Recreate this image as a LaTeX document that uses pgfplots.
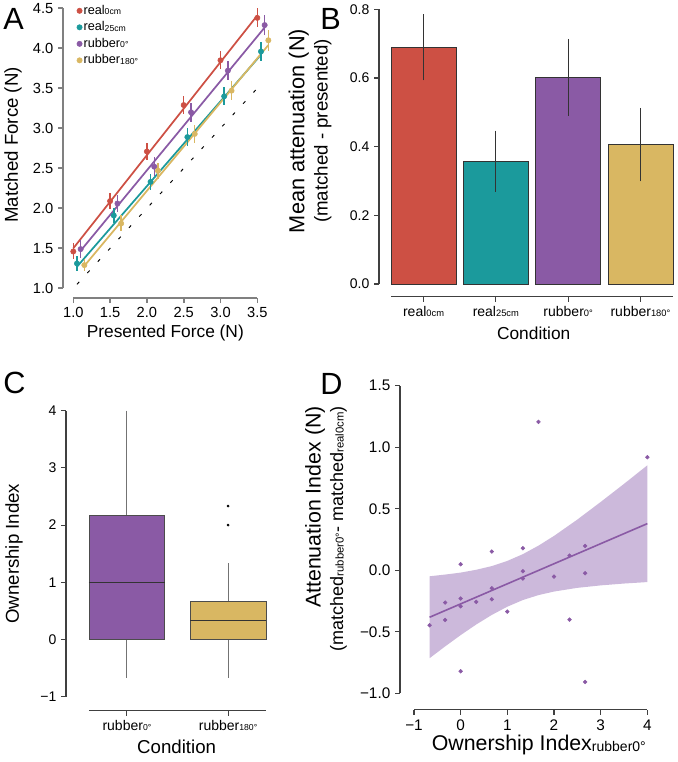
\documentclass[border=0pt]{standalone}
\usepackage{pgfplots}
\pgfplotsset{compat=1.18}
\usepgfplotslibrary{statistics}
\usepackage{fontspec}
\setmainfont{Liberation Sans}
\definecolor{cred}{HTML}{CD5044}
\definecolor{cteal}{HTML}{1B9A9C}
\definecolor{cpurple}{HTML}{8A5AA5}
\definecolor{cgold}{HTML}{D9B762}
\definecolor{cband}{HTML}{CCB9DB}
\newcommand{\fs}[1]{\fontsize{#1}{#1}\selectfont}
\newcommand{\sm}[2]{\raisebox{-0.05ex}{\fs{#1}#2}}
\pgfplotsset{
  rstyle/.style={
    scale only axis, axis lines=left,
    axis line style={-, line width=0.8pt, draw=black!75},
    tick align=outside, major tick length=3.75pt,
    tick style={line width=0.8pt, draw=black!75},
    /pgf/number format/assume math mode=true, clip=false,
  }
}
\begin{document}
\begin{tikzpicture}[x=0.75pt,y=0.75pt]
\path[use as bounding box] (0,0) rectangle (677,762);

% ---------------- Panel A ----------------
\begin{axis}[rstyle, at={(54.975pt,355.275pt)}, anchor=south west, width=138pt, height=210pt,
  xmin=1, xmax=3.5, ymin=1, ymax=4.5,
  axis line style={-, line width=1.2pt, draw=black!50},
  tick style={line width=1.2pt, draw=black!50},
  axis x line shift=7.3pt, axis y line shift=7.7pt,
  xtick={1,1.5,2,2.5,3,3.5}, xticklabels={1.0,1.5,2.0,2.5,3.0,3.5},
  ytick={1,1.5,2,2.5,3,3.5,4,4.5}, yticklabels={1.0,1.5,2.0,2.5,3.0,3.5,4.0,4.5},
  ticklabel style={font=\fs{11}},
  xlabel={Presented Force (N)}, ylabel={Matched Force (N)},
  xlabel style={font=\fs{13}, at={(0.5,-0.16)}, anchor=center},
  ylabel style={font=\fs{14}, at={(-0.328,0.512)}, anchor=center},
  legend style={at={(0.0,1.0)}, anchor=north west, draw=none, fill=none, xshift=2.5pt, yshift=4pt,
    font=\fs{9.5}, inner sep=0pt, row sep=1pt, nodes={inner xsep=1pt, inner ysep=1.5pt}},
  legend cell align=left,
  legend image code/.code={\draw[#1] plot coordinates {(0.1cm,0cm)};},
]
\addplot[black, dash pattern=on 2.5pt off 9pt, line width=0.7pt, forget plot] coordinates {(1.05,1.05) (3.55,3.55)};
\addplot[cred, line width=1.3pt, forget plot] coordinates {(1.0,1.50) (3.5,4.41)};
\addplot[cteal, line width=1.3pt, forget plot] coordinates {(1.05,1.27) (3.55,3.92)};
\addplot[cpurple, line width=1.3pt, forget plot] coordinates {(1.1,1.47) (3.6,4.26)};
\addplot[cgold, line width=1.3pt, forget plot] coordinates {(1.15,1.28) (3.65,4.04)};
\addplot[only marks, mark=*, mark size=2pt, color=cred,
  error bars/.cd, y dir=both, y explicit, error mark=none, error bar style={line width=1.1pt, cred}]
  coordinates {(1.0,1.46) +- (0,0.10) (1.5,2.09) +- (0,0.10) (2.0,2.71) +- (0,0.11) (2.5,3.29) +- (0,0.11) (3.0,3.85) +- (0,0.11) (3.5,4.38) +- (0,0.12)};
\addplot[only marks, mark=*, mark size=2pt, color=cteal,
  error bars/.cd, y dir=both, y explicit, error mark=none, error bar style={line width=1.1pt, cteal}]
  coordinates {(1.05,1.31) +- (0,0.09) (1.55,1.91) +- (0,0.09) (2.05,2.33) +- (0,0.10) (2.55,2.89) +- (0,0.11) (3.05,3.40) +- (0,0.11) (3.55,3.96) +- (0,0.12)};
\addplot[only marks, mark=*, mark size=2pt, color=cpurple,
  error bars/.cd, y dir=both, y explicit, error mark=none, error bar style={line width=1.1pt, cpurple}]
  coordinates {(1.1,1.49) +- (0,0.11) (1.6,2.06) +- (0,0.11) (2.1,2.52) +- (0,0.12) (2.6,3.20) +- (0,0.12) (3.1,3.72) +- (0,0.12) (3.6,4.29) +- (0,0.13)};
\addplot[only marks, mark=*, mark size=2pt, color=cgold,
  error bars/.cd, y dir=both, y explicit, error mark=none, error bar style={line width=1.1pt, cgold}]
  coordinates {(1.15,1.29) +- (0,0.08) (1.65,1.81) +- (0,0.10) (2.15,2.47) +- (0,0.10) (2.65,2.93) +- (0,0.11) (3.15,3.47) +- (0,0.12) (3.65,4.10) +- (0,0.13)};
\legend{real\sm{6.5}{0cm}, real\sm{6.5}{25cm}, rubber\sm{6.5}{0°}, rubber\sm{6.5}{180°}}
\end{axis}

% ---------------- Panel B ----------------
\begin{axis}[rstyle, at={(293.25pt,358.5pt)}, anchor=south west, width=211.5pt, height=206pt,
  xmin=-0.45, xmax=3.45, ymin=0, ymax=0.8,
  axis x line shift=9.5pt, axis y line shift=9pt,
  xtick={0,1,2,3},
  xticklabels={real\sm{7}{0cm}, real\sm{7}{25cm}, rubber\sm{7}{0°}, rubber\sm{7}{180°}},
  ytick={0,0.2,0.4,0.6,0.8}, yticklabels={0.0,0.2,0.4,0.6,0.8},
  xticklabel style={font=\fs{10.5}}, yticklabel style={font=\fs{10.5}},
  xlabel={Condition}, xlabel style={font=\fs{13}, at={(0.506,-0.18)}, anchor=center},
  ylabel={Mean attenuation (N)\\{\fs{14}(matched - presented)}},
  ylabel style={font=\fontsize{16.3}{17.3}\selectfont, align=center, at={(-0.287,0.557)}, anchor=center},
]
\addplot[ybar, bar width=0.9, bar shift=0pt, fill=cred, draw=black!80, line width=0.6pt,
  error bars/.cd, y dir=both, y explicit, error mark=none, error bar style={line width=0.9pt, black!80}]
  coordinates {(0,0.689) +- (0,0.096)};
\addplot[ybar, bar width=0.9, bar shift=0pt, fill=cteal, draw=black!80, line width=0.6pt,
  error bars/.cd, y dir=both, y explicit, error mark=none, error bar style={line width=0.9pt, black!80}]
  coordinates {(1,0.358) +- (0,0.089)};
\addplot[ybar, bar width=0.9, bar shift=0pt, fill=cpurple, draw=black!80, line width=0.6pt,
  error bars/.cd, y dir=both, y explicit, error mark=none, error bar style={line width=0.9pt, black!80}]
  coordinates {(2,0.602) +- (0,0.112)};
\addplot[ybar, bar width=0.9, bar shift=0pt, fill=cgold, draw=black!80, line width=0.6pt,
  error bars/.cd, y dir=both, y explicit, error mark=none, error bar style={line width=0.9pt, black!80}]
  coordinates {(3,0.406) +- (0,0.107)};
\end{axis}

% ---------------- Panel C ----------------
\begin{axis}[rstyle, at={(66.75pt,48.975pt)}, anchor=south west, width=132.75pt, height=214.5pt,
  xmin=0.625, xmax=2.375, ymin=-1, ymax=4,
  axis x line shift=10.5pt, axis y line shift=17.25pt,
  xtick={1,2}, xticklabels={rubber\sm{6.5}{0°}, rubber\sm{6.5}{180°}},
  ytick={-1,0,1,2,3,4}, yticklabels={−1,0,1,2,3,4},
  xticklabel style={font=\fs{10.5}}, yticklabel style={font=\fs{10.5}},
  xlabel={Condition}, xlabel style={font=\fs{14}, at={(0.495,-0.175)}, anchor=center},
  ylabel={Ownership Index}, ylabel style={font=\fs{14}, at={(-0.424,0.5)}, anchor=center},
  boxplot/draw direction=y,
  boxplot/every whisker/.style={draw=black!55, line width=0.8pt},
  boxplot/every median/.style={draw=black!80, line width=0.8pt},
  boxplot/every box/.style={draw=black!70, line width=0.7pt},
]
\addplot[fill=cpurple, draw=black!70, boxplot prepared={draw position=1, lower whisker=-0.667,
  lower quartile=0, median=1, upper quartile=2.17, upper whisker=4, box extend=0.75, whisker extend=0}]
  coordinates {};
\addplot[fill=cgold, draw=black!70, mark=*, mark size=0.8pt, mark options={fill=black, draw=black},
  boxplot prepared={draw position=2, lower whisker=-0.667,
  lower quartile=0, median=0.333, upper quartile=0.667, upper whisker=1.333, box extend=0.75, whisker extend=0}]
  table[row sep=\\, y index=0] {2.0\\2.333\\};
\end{axis}

% ---------------- Panel D ----------------
\begin{axis}[rstyle, at={(310.5pt,51.525pt)}, anchor=south west, width=175pt, height=230.7pt,
  xmin=-1, xmax=4, ymin=-1, ymax=1.5,
  axis x line shift=12.5pt, axis y line shift=10.5pt,
  xtick={-1,0,1,2,3,4}, xticklabels={−1,0,1,2,3,4},
  ytick={-1,-0.5,0,0.5,1,1.5}, yticklabels={−1.0,−0.5,0.0,0.5,1.0,1.5},
  ticklabel style={font=\fs{11.5}},
  xlabel={Ownership Index\sm{10.5}{rubber0°}},
  xlabel style={font=\fs{16}, at={(0.535,-0.168)}, anchor=center},
  ylabel={{\fs{16}Attenuation Index (N)}\\(matched\sm{8.5}{rubber0°}- matched\sm{8.5}{real0cm})},
  ylabel style={font=\fontsize{13.5}{17}\selectfont, align=right, at={(-0.377,0.535)}, anchor=center},
]
\addplot[fill=cband, draw=none] coordinates {(-0.667,-0.049) (-0.333,-0.035) (0,-0.019) (0.333,0.004) (0.667,0.034) (1,0.076) (1.333,0.131) (1.667,0.200) (2,0.279) (2.5,0.412) (3,0.555) (3.5,0.702) (4,0.853)
 (4,-0.096) (3.5,-0.108) (3,-0.123) (2.5,-0.143) (2,-0.173) (1.667,-0.202) (1.333,-0.242) (1,-0.296) (0.667,-0.363) (0.333,-0.441) (0,-0.527) (-0.333,-0.619) (-0.667,-0.715)} -- cycle;
\addplot[cpurple, line width=1.2pt] coordinates {(-0.667,-0.382) (4,0.379)};
\addplot[only marks, mark=*, mark size=1.4pt, color=cpurple] coordinates {
(-0.667,-0.447) (-0.333,-0.263) (-0.333,-0.404) (0,0.049) (0,-0.23) (0,-0.293) (0,-0.821)
(0.333,-0.257) (0.667,0.152) (0.667,-0.146) (0.667,-0.236) (1,-0.336) (1.333,0.179)
(1.333,-0.008) (1.333,-0.068) (1.667,1.206) (2,-0.051) (2.333,0.119) (2.333,-0.401)
(2.667,0.198) (2.667,-0.024) (2.667,-0.908) (4,0.919)};
\end{axis}

\node[anchor=north west, inner sep=0pt, font=\fs{23}] at (3,754) {A};
\node[anchor=north west, inner sep=0pt, font=\fs{23}] at (320,754) {B};
\node[anchor=north west, inner sep=0pt, font=\fs{23}] at (3,390) {C};
\node[anchor=north west, inner sep=0pt, font=\fs{23}] at (320,389) {D};
\end{tikzpicture}
\end{document}
